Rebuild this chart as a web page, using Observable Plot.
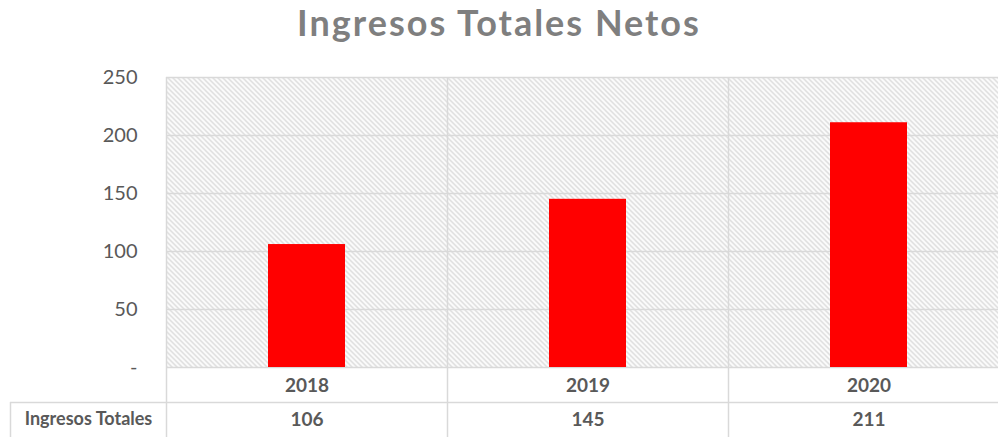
<!DOCTYPE html>
<html>
<head>
<meta charset="utf-8">
<script src="https://cdn.jsdelivr.net/npm/d3@7"></script>
<script src="https://cdn.jsdelivr.net/npm/@observablehq/plot@0.6"></script>
<style>
  html, body { margin: 0; padding: 0; overflow: hidden; background: #fff; width: 998px; height: 437px; }
  #title { height: 60px; width: 998px; box-sizing: border-box; padding-top: 4px; text-align: center; font-family: Lato, sans-serif; font-weight: bold; font-size: 36px; line-height: 36px; letter-spacing: 2px; color: #7f7f7f; white-space: nowrap; }
  #chart svg { display: block; max-width: none !important; height: 377px !important; width: 1012px !important; }
</style>
</head>
<body>
<div id="title">Ingresos Totales Netos</div>
<div id="chart"></div>
<script>
const years = ["2018", "2019", "2020"];
const values = [106, 145, 211];
const yTicks = [0, 50, 100, 150, 200, 250];
const rowLabel = "Ingresos Totales";

const data = years.map((year, i) => ({ year, value: values[i], i }));

const grid = "#d9d9d9";
const textColor = "#595959";
const font = "Lato, sans-serif";

const defs = () => {
  const ns = "http://www.w3.org/2000/svg";
  const d = document.createElementNS(ns, "defs");
  const p = document.createElementNS(ns, "pattern");
  p.setAttribute("id", "hatch");
  p.setAttribute("patternUnits", "userSpaceOnUse");
  p.setAttribute("width", "5");
  p.setAttribute("height", "5");
  const path = document.createElementNS(ns, "path");
  path.setAttribute("d", "M0,0L5,5M-1,4L1,6M4,-1L6,1");
  path.setAttribute("stroke", "#d4d4d4");
  path.setAttribute("stroke-width", "1.3");
  p.appendChild(path);
  d.appendChild(p);
  return d;
};

const chart = Plot.plot({
  width: 1012,
  height: 377,
  marginLeft: 166,
  marginRight: 3,
  marginTop: 17,
  marginBottom: 70,
  style: { fontFamily: font, background: "transparent", overflow: "visible", maxWidth: "none" },
  x: { domain: [0, 3], axis: null },
  y: { domain: [0, 250], axis: null },
  marks: [
    defs,
    Plot.frame({ fill: "url(#hatch)", stroke: null }),
    Plot.ruleY(yTicks, { stroke: grid, strokeWidth: 1.5 }),
    Plot.ruleX([0, 1, 2, 3], { x: d => d, stroke: grid, strokeWidth: 1.5, insetBottom: -70 }),
    Plot.ruleY([0], { dy: 35, insetLeft: -156, stroke: grid, strokeWidth: 1.5 }),
    Plot.ruleX([0], { x: d => d, dx: -156, insetTop: 325, insetBottom: -70, stroke: grid, strokeWidth: 1.5 }),
    Plot.rectY(data, { x1: d => d.i, x2: d => d.i + 1, y: "value", insetLeft: 102, insetRight: 102, fill: "#ff0000" }),
    Plot.axisY({ ticks: yTicks, tickSize: 0, tickPadding: 29, tickFormat: d => d === 0 ? "-" : String(d), fontSize: 20, color: textColor, label: null }),
    Plot.text(data, { x: d => d.i + 0.5, y: 0, dy: 18, text: "year", fontSize: 19, fontWeight: "bold", fill: textColor }),
    Plot.text(data, { x: d => d.i + 0.5, y: 0, dy: 52, text: d => String(d.value), fontSize: 19, fontWeight: "bold", fill: textColor }),
    Plot.text([rowLabel], { x: 0, y: 0, dx: -78, dy: 52, text: d => d, fontSize: 18, fontWeight: "bold", fill: textColor })
  ]
});
document.getElementById("chart").appendChild(chart);
</script>
</body>
</html>
